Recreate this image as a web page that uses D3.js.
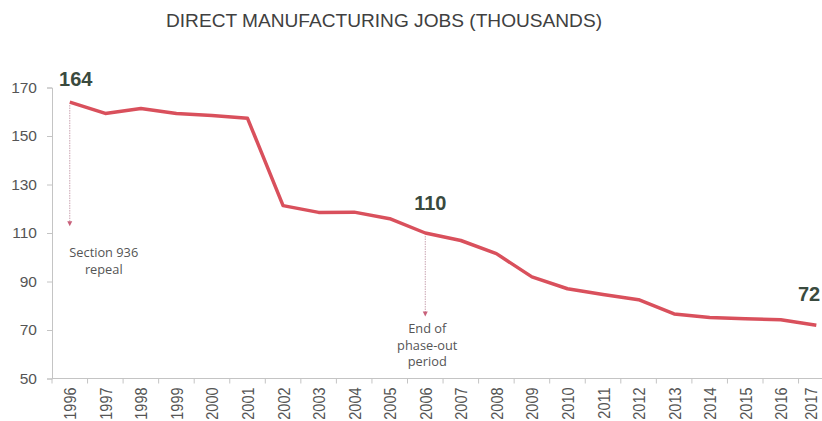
<!DOCTYPE html>
<html>
<head>
<meta charset="utf-8">
<script src="https://cdn.jsdelivr.net/npm/d3@7"></script>
<style>
  html, body { margin: 0; padding: 0; background: #ffffff; }
  svg { display: block; }
</style>
</head>
<body>
<script>
// Direct manufacturing jobs, in thousands, by year
const years = ["1996","1997","1998","1999","2000","2001","2002","2003","2004","2005","2006",
               "2007","2008","2009","2010","2011","2012","2013","2014","2015","2016","2017"];
const jobs = [164, 159.3, 161.3, 159.3, 158.5, 157.3, 121.3, 118.5, 118.6, 115.9, 110,
              106.9, 101.5, 91.9, 87.0, 84.6, 82.5, 76.6, 75.2, 74.6, 74.2, 72];
const yTicks = [50, 70, 90, 110, 130, 150, 170];

// Highlighted values and the notes hanging beneath them
const callouts = [
  { year: "1996", label: "164" },
  { year: "2006", label: "110" },
  { year: "2017", label: "72" }
];
const notes = [
  { year: "1996", arrowTo: 113.2, lines: ["Section 936", "repeal"] },
  { year: "2006", arrowTo: 76, lines: ["End of", "phase-out", "period"] }
];

const W = 822, H = 421;
const plotLeft = 52, plotTop = 87.5, plotBottom = 378.5, step = 35.55;
const axisColor = "#c4c4c4", labelColor = "#555555";

const svg = d3.select("body").append("svg").attr("width", W).attr("height", H);

const x = d3.scaleBand().domain(years).range([plotLeft, plotLeft + step * years.length]).padding(0);
const y = d3.scaleLinear().domain([50, 170]).range([plotBottom, plotTop]);
const cx = d => x(d) + x.bandwidth() / 2;
const byYear = Object.fromEntries(years.map((yr, i) => [yr, jobs[i]]));

// Title
svg.append("text")
  .attr("x", 384).attr("y", 27)
  .attr("text-anchor", "middle")
  .attr("font-family", "Liberation Sans, Arial, sans-serif")
  .attr("font-size", 18)
  .attr("textLength", 436)
  .attr("lengthAdjust", "spacingAndGlyphs")
  .attr("fill", "#404040")
  .text("DIRECT MANUFACTURING JOBS (THOUSANDS)");

// Y axis
const yAxis = svg.append("g")
  .attr("transform", `translate(${plotLeft},0)`)
  .call(d3.axisLeft(y).tickValues(yTicks).tickSize(5).tickPadding(10).tickFormat(d3.format("d")));
yAxis.select(".domain").attr("stroke", axisColor);
yAxis.selectAll(".tick line").attr("stroke", axisColor);
yAxis.selectAll(".tick text")
  .attr("font-family", "Liberation Sans, Arial, sans-serif")
  .attr("font-size", 15.5)
  .attr("fill", labelColor);

// X axis: ticks sit on the category boundaries
const plotRight = plotLeft + step * years.length;
const xg = svg.append("g").attr("transform", `translate(0,${plotBottom})`);
xg.append("line")
  .attr("x1", plotLeft).attr("x2", plotRight)
  .attr("stroke", axisColor);
xg.selectAll("line.tk")
  .data(years.map(d => x(d)).concat([plotRight]))
  .join("line")
  .attr("class", "tk")
  .attr("x1", d => d).attr("x2", d => d)
  .attr("y1", 0).attr("y2", 5)
  .attr("stroke", axisColor);
xg.selectAll("text")
  .data(years)
  .join("text")
  .attr("transform", d => `translate(${Math.min(cx(d) + 6.5, W - 5)},9) rotate(-90) scale(1,1.15)`)
  .attr("text-anchor", "end")
  .attr("font-family", "Liberation Sans, Arial, sans-serif")
  .attr("font-size", 14.5)
  .attr("fill", labelColor);
xg.selectAll("text").text(d => d);

// Notes with dotted arrows
const noteText = { "1996": { dx: 34, dy: 32 }, "2006": { dx: 2, dy: 18 } };
notes.forEach(n => {
  const px = cx(n.year);
  const tip = y(n.arrowTo);
  svg.append("line")
    .attr("x1", px).attr("x2", px)
    .attr("y1", y(byYear[n.year]) + 3)
    .attr("y2", tip - 3)
    .attr("stroke", "#c9a3b0")
    .attr("stroke-width", 1)
    .attr("stroke-dasharray", "1.5,1");
  svg.append("path")
    .attr("d", `M${px - 2.5},${tip - 4} L${px + 2.5},${tip - 4} L${px},${tip + 1} Z`)
    .attr("fill", "#c8607a");
  const off = noteText[n.year];
  const t = svg.append("text")
    .attr("text-anchor", "middle")
    .attr("font-family", "Open Sans, Noto Sans, sans-serif")
    .attr("font-size", 12.8)
    .attr("fill", labelColor);
  n.lines.forEach((ln, i) => {
    t.append("tspan")
      .attr("x", px + off.dx)
      .attr("y", tip + off.dy + i * 16.5)
      .text(ln);
  });
});

// Series line
svg.append("path")
  .datum(jobs)
  .attr("fill", "none")
  .attr("stroke", "#d9505c")
  .attr("stroke-width", 3.5)
  .attr("stroke-linejoin", "round")
  .attr("d", d3.line().x((d, i) => cx(years[i])).y(d => y(d)));

// Value callouts
const calloutPos = { "1996": { dx: 6, dy: -16 }, "2006": { dx: 5, dy: -23 }, "2017": { dx: -4, dy: -24 } };
svg.selectAll("text.callout")
  .data(callouts)
  .join("text")
  .attr("class", "callout")
  .attr("x", d => Math.min(cx(d.year) + calloutPos[d.year].dx, W - 13))
  .attr("y", d => y(byYear[d.year]) + calloutPos[d.year].dy)
  .attr("text-anchor", "middle")
  .attr("font-family", "Liberation Sans, Arial, sans-serif")
  .attr("font-weight", "bold")
  .attr("font-size", 20)
  .attr("fill", "#3a4a3e")
  .text(d => d.label);
</script>
</body>
</html>
